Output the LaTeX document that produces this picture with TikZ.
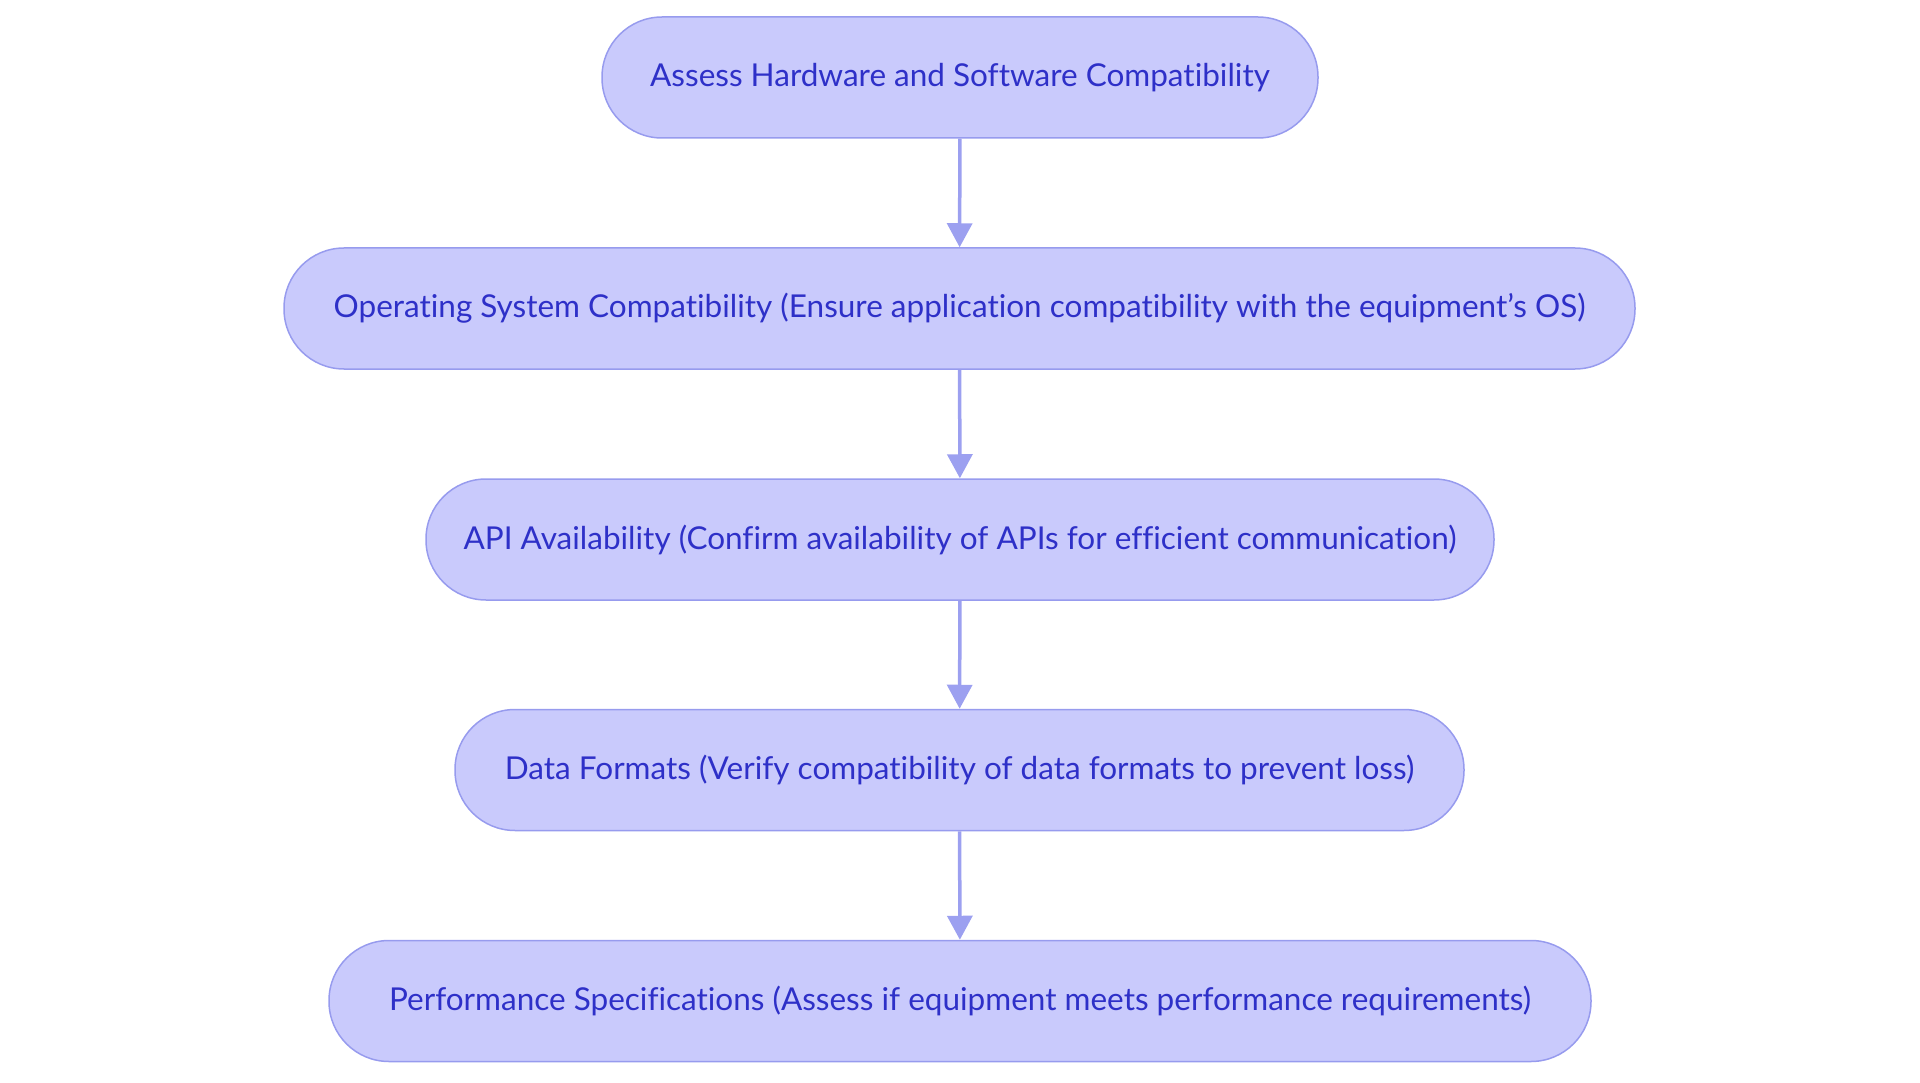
\documentclass[tikz,border=0pt]{standalone}
\usepackage{fontspec}
\setmainfont{Lato}[Ligatures=NoCommon]
\usetikzlibrary{arrows.meta}
\definecolor{boxfill}{HTML}{C9CAFC}
\definecolor{boxline}{HTML}{979BEE}
\definecolor{boxtext}{HTML}{2E30C8}
\definecolor{arrowc}{HTML}{9CA0F0}
\tikzset{
  pill/.style={draw=boxline, fill=boxfill, line width=1.5pt, rounded corners=60pt,
    minimum height=121pt, inner sep=0pt, text=boxtext, font=\fontsize{31.5}{36}\selectfont},
  conn/.style={draw=arrowc, line width=3.5pt, -{Triangle[length=24pt,width=25pt]}}
}
\begin{document}
\begin{tikzpicture}[x=1pt,y=1pt]
\useasboundingbox (0,0) rectangle (1920,-1083);
\node[pill, minimum width=716pt]  (n1) at (960,-77.5) {Assess Hardware and Software Compatibility};
\node[pill, minimum width=1351pt] (n2) at (959.5,-308.5) {Operating System Compatibility (Ensure application compatibility with the equipment’s OS)};
\node[pill, minimum width=1068pt] (n3) at (960,-539.5) {API Availability (Confirm availability of APIs for efficient communication)};
\node[pill, minimum width=1009pt] (n4) at (959.5,-770) {Data Formats (Verify compatibility of data formats to prevent loss)};
\node[pill, minimum width=1262pt] (n5) at (960,-1001) {Performance Specifications (Assess if equipment meets performance requirements)};
\draw[conn] (n1) -- (n2);
\draw[conn] (n2) -- (n3);
\draw[conn] (n3) -- (n4);
\draw[conn] (n4) -- (n5);
\end{tikzpicture}
\end{document}
